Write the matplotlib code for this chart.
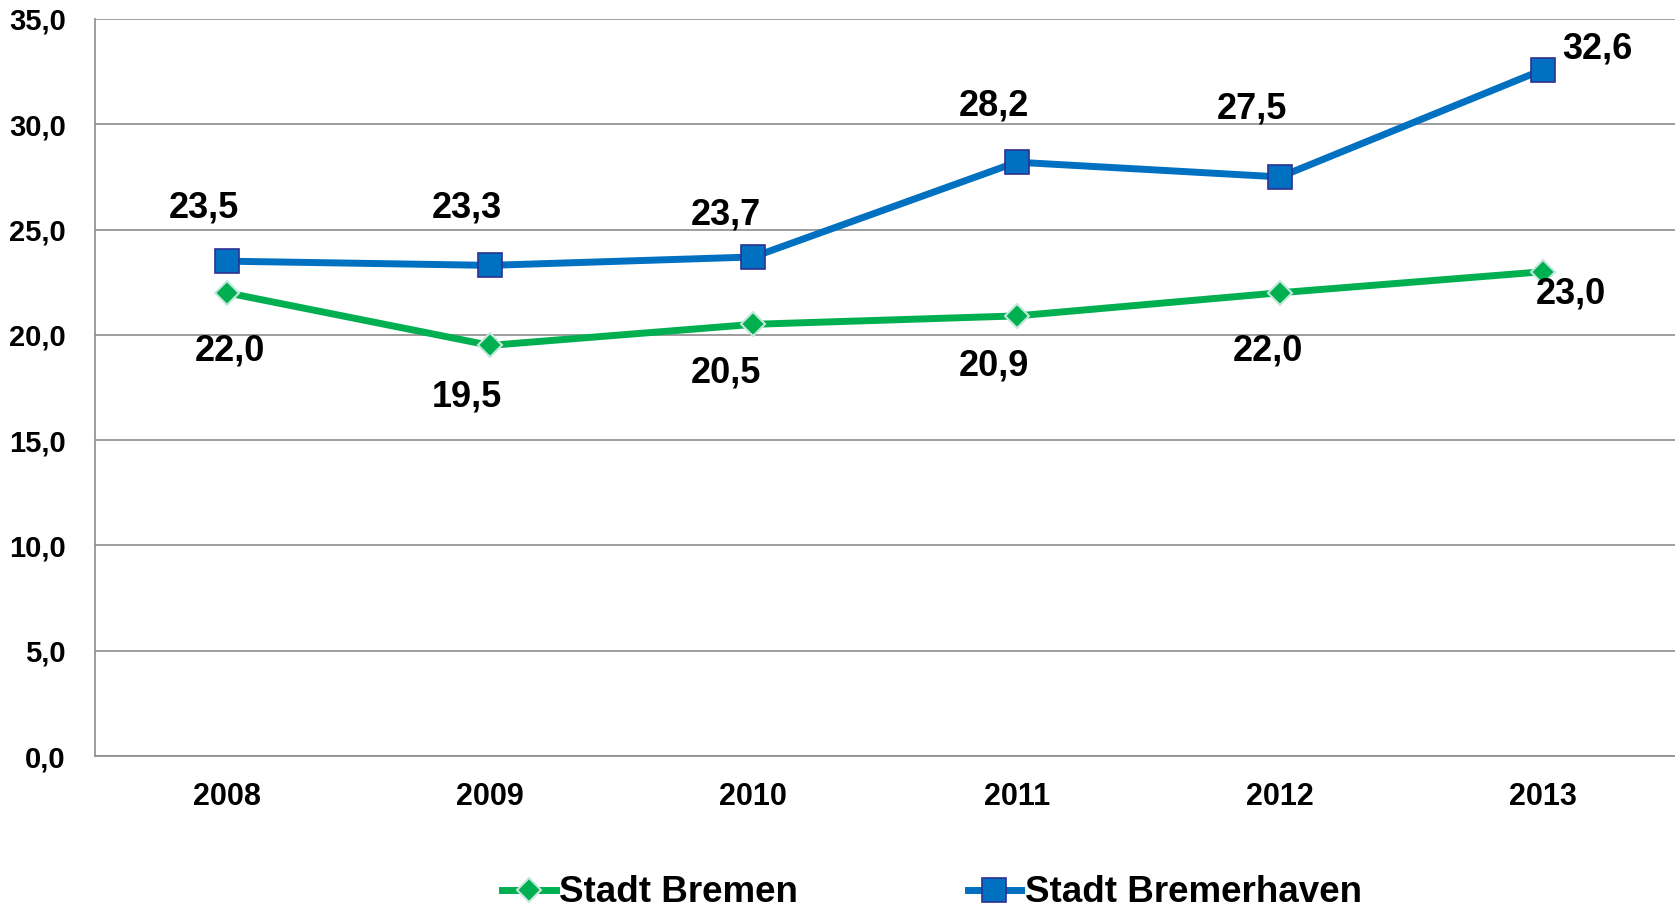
import numpy as np
import matplotlib
matplotlib.use("Agg")
import matplotlib.pyplot as plt

# chart data
years = ["2008", "2009", "2010", "2011", "2012", "2013"]
bremen = [22.0, 19.5, 20.5, 20.9, 22.0, 23.0]
bremerhaven = [23.5, 23.3, 23.7, 28.2, 27.5, 32.6]
y_ticks = [0, 5, 10, 15, 20, 25, 30, 35]

# label offsets in pixels (dx, dy) relative to each point
off_bremen = [(3, -58), (-23, -52), (-27, -49), (-23, -50), (-12, -58), (28, -22)]
off_bremerhaven = [(-23, 53), (-23, 57), (-27, 42), (-23, 56), (-28, 68), (54, 21)]

GREEN = "#00B050"
BLUE = "#0070C0"
GRID = "#8C8C8C"


def fmt(v):
    return f"{v:.1f}".replace(".", ",")


plt.rcParams["font.family"] = ["Liberation Sans", "DejaVu Sans"]
plt.rcParams["font.weight"] = "bold"

fig = plt.figure(figsize=(16.75, 9.08), dpi=100)
ax = fig.add_axes([95 / 1675, 1 - 756 / 908, 1 - 95 / 1675, (756 - 19) / 908])

x = np.arange(len(years)) + 0.5

ax.plot(x, bremen, color=GREEN, lw=5, marker="D", ms=12.5,
        mfc=GREEN, mec="#C4E8DE", mew=1.5, label="Stadt Bremen", zorder=3)
ax.plot(x, bremerhaven, color=BLUE, lw=5, marker="s", ms=17.5,
        mfc=BLUE, mec="#2E3192", mew=1.2, label="Stadt Bremerhaven", zorder=4)

for xi, v, (dx, dy) in zip(x, bremen, off_bremen):
    ax.annotate(fmt(v), (xi, v), xytext=(dx, dy), textcoords="offset pixels",
                ha="center", va="center", fontsize=26, fontweight="bold")
for xi, v, (dx, dy) in zip(x, bremerhaven, off_bremerhaven):
    ax.annotate(fmt(v), (xi, v), xytext=(dx, dy), textcoords="offset pixels",
                ha="center", va="center", fontsize=26, fontweight="bold")

ax.set_xlim(0, len(years))
ax.set_ylim(0, 35)
ax.set_xticks(x)
ax.set_xticklabels(years, fontsize=22, fontweight="bold")
ax.set_yticks(y_ticks)
ax.set_yticklabels([fmt(t) for t in y_ticks], fontsize=21, fontweight="bold")
ax.tick_params(axis="both", length=0)
ax.tick_params(axis="x", pad=19)
ax.tick_params(axis="y", pad=21)

ax.yaxis.grid(True, color=GRID, lw=1.2)
ax.set_axisbelow(True)
for side in ["top", "right"]:
    ax.spines[side].set_visible(False)
for side in ["left", "bottom"]:
    ax.spines[side].set_color(GRID)
    ax.spines[side].set_linewidth(1.2)

fig.legend(loc="center", bbox_to_anchor=(932 / 1675, 1 - 893 / 908),
           ncol=2, frameon=False, prop={"size": 26.5, "weight": "bold"},
           handlelength=1.45, handletextpad=0.1, columnspacing=4.6,
           borderpad=0)

fig.savefig("out.png", dpi=100)
